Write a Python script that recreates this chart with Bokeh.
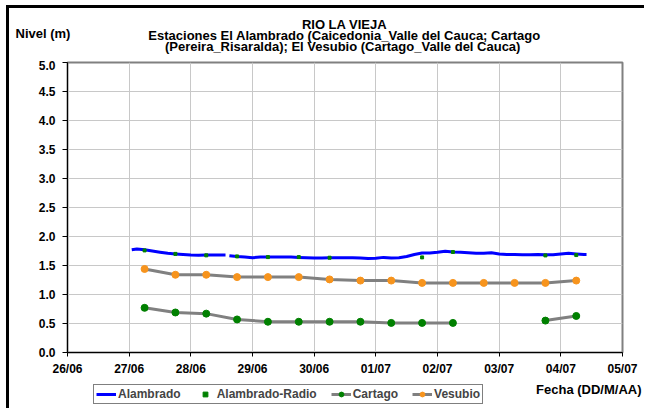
from bokeh.plotting import figure
from bokeh.layouts import column
from bokeh.models import (FixedTicker, Legend, LegendItem, ColumnDataSource, Range1d, NumeralTickFormatter,
                          Label)
from bokeh.embed import file_html
from bokeh.resources import INLINE
import numpy as np

# ---------------- data ----------------
x_tick_labels = ["26/06", "27/06", "28/06", "29/06", "30/06", "01/07", "02/07", "03/07", "04/07", "05/07"]
y_ticks = [0.0, 0.5, 1.0, 1.5, 2.0, 2.5, 3.0, 3.5, 4.0, 4.5, 5.0]

alambrado_time = ["27/06 01:00", "27/06 03:00", "27/06 06:00", "27/06 09:00", "27/06 12:00", "27/06 15:00",
                  "27/06 18:00", "27/06 21:00", "28/06 00:00", "28/06 03:00", "28/06 06:00", "28/06 09:00",
                  "28/06 12:00", "28/06 13:30", "28/06 14:15", "28/06 15:00", "28/06 18:00", "28/06 21:00",
                  "29/06 00:00", "29/06 03:00", "29/06 06:00", "29/06 09:00", "29/06 12:00", "29/06 15:00",
                  "29/06 18:00", "29/06 21:00", "30/06 00:00", "30/06 03:00", "30/06 06:00", "30/06 09:00",
                  "30/06 12:00", "30/06 15:00", "30/06 18:00", "30/06 21:00", "01/07 00:00", "01/07 03:00",
                  "01/07 06:00", "01/07 09:00", "01/07 12:00", "01/07 15:00", "01/07 18:00", "01/07 21:00",
                  "02/07 00:00", "02/07 03:00", "02/07 06:00", "02/07 09:00", "02/07 12:00", "02/07 15:00",
                  "02/07 18:00", "02/07 21:00", "03/07 00:00", "03/07 03:00", "03/07 06:00", "03/07 09:00",
                  "03/07 12:00", "03/07 15:00", "03/07 18:00", "03/07 21:00", "04/07 00:00", "04/07 03:00",
                  "04/07 06:00", "04/07 09:00", "04/07 10:00"]
alambrado_level = [1.77, 1.785, 1.77, 1.75, 1.73, 1.71,
                   1.70, 1.69, 1.68, 1.675, 1.68, 1.68,
                   1.68, 1.68, None, 1.67, 1.655, 1.645,
                   1.635, 1.645, 1.645, 1.645, 1.645, 1.645,
                   1.64, 1.635, 1.628, 1.63, 1.635, 1.635,
                   1.635, 1.635, 1.63, 1.62, 1.625, 1.64,
                   1.63, 1.635, 1.655, 1.69, 1.715, 1.715,
                   1.727, 1.744, 1.733, 1.727, 1.72, 1.71,
                   1.71, 1.72, 1.70, 1.69, 1.69, 1.686,
                   1.686, 1.69, 1.686, 1.686, 1.70, 1.71,
                   1.70, 1.69, 1.69]

radio_time = ["27/06 06:00", "27/06 18:00", "28/06 06:00", "28/06 18:00", "29/06 06:00", "29/06 18:00",
              "30/06 06:00", "01/07 18:00", "02/07 06:00", "03/07 18:00", "04/07 06:00"]
radio_level = [1.76, 1.70, 1.675, 1.657, 1.645, 1.645, 1.634, 1.64, 1.733, 1.674, 1.68]

station_time = ["27/06 06:00", "27/06 18:00", "28/06 06:00", "28/06 18:00", "29/06 06:00", "29/06 18:00",
                "30/06 06:00", "30/06 18:00", "01/07 06:00", "01/07 18:00", "02/07 06:00", "02/07 18:00",
                "03/07 06:00", "03/07 18:00", "04/07 06:00"]
cartago_level = [0.77, 0.69, 0.67, 0.57, 0.53, 0.53, 0.53, 0.53, 0.51, 0.51, 0.51, None, None, 0.55, 0.63]
vesubio_level = [1.44, 1.34, 1.34, 1.30, 1.30, 1.30, 1.26, 1.24, 1.24, 1.20, 1.20, 1.20, 1.20, 1.20, 1.24]

title_lines = ["RIO LA VIEJA",
               "Estaciones El Alambrado (Caicedonia_Valle del Cauca; Cartago",
               "(Pereira_Risaralda);  El Vesubio (Cartago_Valle del Cauca)"]
y_label = "Nivel (m)"
x_label = "Fecha (DD/M/AA)"
series_names = ["Alambrado", "Alambrado-Radio", "Cartago", "Vesubio"]


def to_day(s):
    d, rest = s.split("/")
    mm, hm = rest.split(" ")
    h, mi = hm.split(":")
    day = int(d) + (30 if int(mm) == 7 else 0) - 26
    return day + int(h) / 24 + int(mi) / 1440


def arr(vals):
    return np.array([np.nan if v is None else v for v in vals], dtype=float)


FONT = "Liberation Sans"
BLUE, GREY, GREEN, ORANGE = "#0000FF", "#808080", "#008000", "#F7941D"
LEFT_BORDER = 67


def text_label(fig, x, y, text, align, size="13px"):
    fig.add_layout(Label(x=x, y=y, x_units="screen", y_units="screen", text=text,
                         text_font=FONT, text_font_style="bold", text_font_size=size,
                         text_align=align, text_baseline="middle", text_color="black"))


def blank_figure(h):
    f = figure(width=644, height=h, output_backend="svg", toolbar_location=None,
               x_axis_location=None, y_axis_location=None, min_border=0,
               x_range=Range1d(-100, -99), y_range=Range1d(0, 1),
               border_fill_alpha=0, background_fill_alpha=0)
    f.outline_line_color = None
    f.xgrid.visible = False
    f.ygrid.visible = False
    return f


top = blank_figure(60)
bot = blank_figure(30)

# strips normally get their frame aligned with the chart frame; switch that off when possible
off = LEFT_BORDER
if "frame_align" in top.properties():
    top.frame_align = False
    bot.frame_align = False
    off = 0

# ---------------- title strip ----------------
for i, t in enumerate(title_lines):
    text_label(top, 344 - off, 36 - 11 * i, t, "center")
text_label(top, max(15 - off, 0), 27, y_label, "left")

# ---------------- main chart ----------------
p = figure(frame_width=555, frame_height=290, output_backend="svg", toolbar_location=None,
           x_range=Range1d(0, 9), y_range=Range1d(0, 5),
           min_border_left=LEFT_BORDER, min_border_top=2, min_border_right=22, min_border_bottom=24,
           background_fill_color="white", border_fill_alpha=0)
p.outline_line_color = GREY
p.outline_line_width = 2

for ax in (p.xaxis[0], p.yaxis[0]):
    ax.axis_line_color = "black"
    ax.major_tick_line_color = "black"
    ax.minor_tick_line_color = None
    ax.major_label_text_font = FONT
    ax.major_label_text_font_style = "bold"
    ax.major_label_text_font_size = "12px"
    ax.major_label_text_color = "black"
    ax.major_tick_in = 0

p.xaxis.ticker = FixedTicker(ticks=list(range(len(x_tick_labels))))
p.xaxis.major_label_overrides = {i: lab for i, lab in enumerate(x_tick_labels)}
p.xaxis.major_tick_out = 4
p.xaxis.major_label_standoff = 5
p.yaxis.ticker = FixedTicker(ticks=y_ticks)
p.yaxis.formatter = NumeralTickFormatter(format="0.0")
p.yaxis.major_tick_out = 5
p.yaxis.major_label_standoff = 7

p.xgrid.ticker = FixedTicker(ticks=list(range(len(x_tick_labels))))
p.ygrid.ticker = FixedTicker(ticks=y_ticks)
p.xgrid.grid_line_color = "#C8C8C8"
p.ygrid.grid_line_color = "#C8C8C8"

st_x = [to_day(t) for t in station_time]
src_al = ColumnDataSource(dict(x=[to_day(t) for t in alambrado_time], y=arr(alambrado_level)))
src_ra = ColumnDataSource(dict(x=[to_day(t) for t in radio_time], y=arr(radio_level)))
src_ca = ColumnDataSource(dict(x=st_x, y=arr(cartago_level)))
src_ve = ColumnDataSource(dict(x=st_x, y=arr(vesubio_level)))


def draw_series(fig, pt_size_st):
    ca_l = fig.line("x", "y", source=src_ca, line_color=GREY, line_width=3)
    ca_p = fig.scatter("x", "y", source=src_ca, size=pt_size_st, fill_color=GREEN, line_color=GREEN)
    ve_l = fig.line("x", "y", source=src_ve, line_color=GREY, line_width=3)
    ve_p = fig.scatter("x", "y", source=src_ve, size=pt_size_st, fill_color=ORANGE, line_color=ORANGE)
    al = fig.line("x", "y", source=src_al, line_color=BLUE, line_width=3)
    ra = fig.scatter("x", "y", source=src_ra, marker="square", size=3, fill_color=GREEN, line_color=GREEN)
    return al, ra, (ca_l, ca_p), (ve_l, ve_p)


draw_series(p, 7)

# ---------------- legend strip (same series, out of view, only feeding the key) ----------------
k_al, k_ra, k_ca, k_ve = draw_series(bot, 5)
legend = Legend(items=[
    LegendItem(label=series_names[0], renderers=[k_al]),
    LegendItem(label=series_names[1], renderers=[k_ra]),
    LegendItem(label=series_names[2], renderers=list(k_ca)),
    LegendItem(label=series_names[3], renderers=list(k_ve)),
], orientation="horizontal", location=(93 - off, 4),
    border_line_color="black", border_line_width=1, background_fill_color="white", background_fill_alpha=1,
    label_text_font=FONT, label_text_font_style="bold", label_text_font_size="12px",
    glyph_width=20, glyph_height=12, label_standoff=2, spacing=14, padding=2, margin=0, label_height=12)
bot.add_layout(legend)
text_label(bot, 641 - off, 19, x_label, "right")

page = column(top, p, bot, spacing=0)
page.styles = {"background-color": "white",
               "background-image": "linear-gradient(black, black), linear-gradient(black, black)",
               "background-size": "3px 100%, 100% 3px",
               "background-position": "6px 5px, 6px 5px",
               "background-repeat": "no-repeat"}

open("out.html", "w").write(file_html(page, INLINE))
